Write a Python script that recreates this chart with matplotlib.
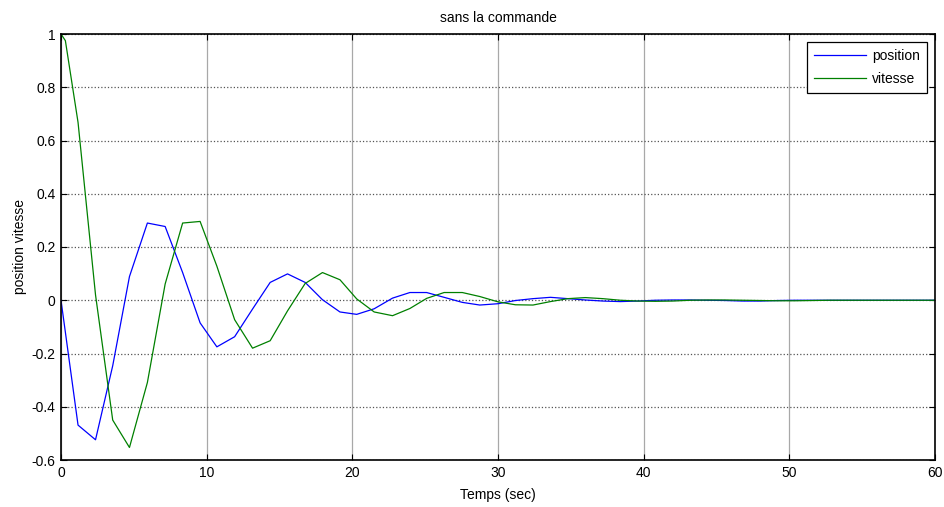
"""Reponse libre du systeme - sans la commande (position et vitesse)."""
import matplotlib
matplotlib.use("Agg")
import matplotlib.pyplot as plt

plt.rcParams["font.family"] = ["Liberation Sans", "DejaVu Sans"]

# temps d'integration (pas du solveur)
t = [0, 0.3, 1.17, 2.37, 3.55, 4.7, 5.93, 7.15, 8.35, 9.55, 10.7, 11.92, 13.15,
     14.36, 15.55, 16.76, 17.95, 19.15, 20.3, 21.5, 22.76, 23.95, 25.1, 26.3,
     27.55, 28.75, 30.0, 31.2, 32.4, 33.6, 34.8, 36.0, 37.2, 38.4, 39.6, 40.8,
     42.0, 43.2, 44.4, 45.6, 46.8, 48.0, 49.2, 50.4, 51.6, 52.8, 54.0, 55.2,
     56.4, 57.6, 58.8, 60.0]
position = [0, -0.12, -0.469, -0.524, -0.246, 0.089, 0.29, 0.277, 0.104, -0.085,
            -0.175, -0.137, -0.033, 0.067, 0.099, 0.067, 0.002, -0.044, -0.053,
            -0.032, 0.008, 0.029, 0.029, 0.011, -0.008, -0.018, -0.013, -0.001,
            0.006, 0.011, 0.006, 0.001, -0.003, -0.005, -0.003, 0.0, 0.001, 0.001,
            0.0, -0.001, -0.003, -0.003, -0.001, 0.0, 0.0, 0.0, 0.0, 0.0, 0.0,
            0.0, 0.0, 0.0]
vitesse = [1.0, 0.975, 0.668, 0.02, -0.45, -0.553, -0.309, 0.061, 0.29, 0.296,
           0.128, -0.073, -0.18, -0.152, -0.04, 0.063, 0.104, 0.077, 0.005,
           -0.044, -0.058, -0.031, 0.007, 0.029, 0.029, 0.014, -0.006, -0.017,
           -0.018, -0.005, 0.006, 0.01, 0.006, 0.0, -0.003, -0.004, -0.003, 0.0,
           0.001, 0.001, 0.0, -0.001, -0.002, -0.002, -0.001, 0.0, 0.0, 0.0, 0.0,
           0.0, 0.0, 0.0]

xticks = [0, 10, 20, 30, 40, 50, 60]
yticks = [-0.6, -0.4, -0.2, 0, 0.2, 0.4, 0.6, 0.8, 1]
ytick_labels = ["-0.6", "-0.4", "-0.2", "0", "0.2", "0.4", "0.6", "0.8", "1"]

fig = plt.figure(figsize=(9.44, 5.07), dpi=100)
ax = fig.add_axes([61/944, 47/507, 874/944, 426/507])

ax.plot(t, position, color="#0000ff", lw=0.9, label="position")
ax.plot(t, vitesse, color="#008000", lw=0.9, label="vitesse")

ax.set_xlim(0, 60); ax.set_ylim(-0.6, 1)
ax.set_xticks(xticks); ax.set_yticks(yticks)
ax.set_yticklabels(ytick_labels)
ax.tick_params(direction="in", length=4, width=0.8, top=True, right=True,
               labelsize=10, pad=4, color="black")
ax.xaxis.grid(True, linestyle="-", color="#a8a8a8", lw=0.9)
ax.yaxis.grid(True, linestyle=":", color="#555555", lw=0.9)
ax.set_axisbelow(True)
for s in ax.spines.values():
    s.set_linewidth(1.2); s.set_color("black")

ax.set_title("sans la commande", fontsize=10, pad=9)
ax.set_xlabel("Temps (sec)", fontsize=10, labelpad=6)
ax.set_ylabel("position vitesse", fontsize=10, labelpad=3)

leg = ax.legend(loc="upper right", fontsize=10, fancybox=False, framealpha=1,
                edgecolor="black", handlelength=3.8, borderaxespad=0.6,
                handletextpad=0.4, labelspacing=0.6, borderpad=0.5)
leg.get_frame().set_linewidth(0.9)

plt.savefig("out.png", dpi=100)
plt.close()
